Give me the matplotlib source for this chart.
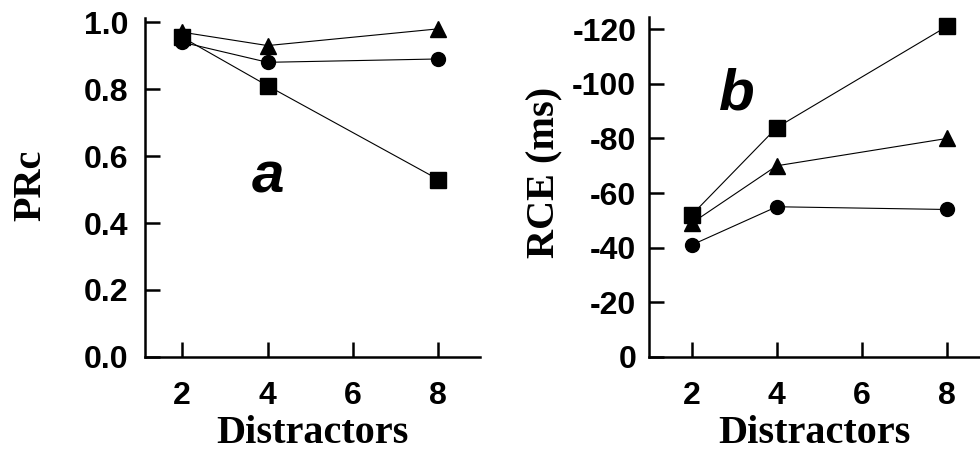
import matplotlib
matplotlib.use('Agg')
import matplotlib.pyplot as plt
from matplotlib.font_manager import FontProperties

# data
distractors = [2, 4, 8]

# panel a: PRc
prc_triangle = [0.97, 0.93, 0.98]
prc_circle = [0.94, 0.88, 0.89]
prc_square = [0.955, 0.81, 0.53]

# panel b: RCE (ms)
rce_square = [-52, -84, -121]
rce_triangle = [-49, -70, -80]
rce_circle = [-41, -55, -54]

x_ticks = [2, 4, 6, 8]
prc_ticks = [0.0, 0.2, 0.4, 0.6, 0.8, 1.0]
rce_ticks = [0, -20, -40, -60, -80, -100, -120]

tick_font = FontProperties(family='Liberation Sans', weight='bold', size=23)
label_font = {'family': 'Liberation Serif', 'weight': 'bold', 'size': 29}

fig = plt.figure(figsize=(9.8, 4.53), dpi=100)
ax1 = fig.add_axes([0.148, 0.212, 0.342, 0.748])
ax2 = fig.add_axes([0.662, 0.212, 0.338, 0.750])


def style_axes(ax, ypad):
    for side in ['top', 'right']:
        ax.spines[side].set_visible(False)
    for side in ['left', 'bottom']:
        ax.spines[side].set_linewidth(1.8)
    ax.tick_params(direction='in', length=11, width=1.8)
    ax.tick_params(axis='y', pad=ypad)
    ax.tick_params(axis='x', pad=17)
    for lab in ax.get_xticklabels() + ax.get_yticklabels():
        lab.set_fontproperties(tick_font)


line_kw = dict(color='black', linewidth=0.8)

# panel a
ax1.plot(distractors, prc_square, marker='s', markersize=11, **line_kw)
ax1.plot(distractors, prc_circle, marker='o', markersize=10, **line_kw)
ax1.plot(distractors, prc_triangle, marker='^', markersize=11, **line_kw)
ax1.set_xlim(1.13, 8.98)
ax1.set_ylim(0, 1.012)
ax1.set_xticks(x_ticks)
ax1.set_yticks(prc_ticks)
ax1.set_yticklabels(['%.1f' % v for v in prc_ticks])
style_axes(ax1, 12)
ax1.set_xlabel('Distractors', fontdict=label_font)
ax1.text(4, 0.49, 'a', fontsize=42, fontweight='bold', style='italic',
         family='Liberation Sans', ha='center', va='baseline')
fig.text(0.031, 0.59, 'PRc', rotation=90, ha='center', va='center', **label_font)

# panel b
ax2.plot(distractors, rce_triangle, marker='^', markersize=11, **line_kw)
ax2.plot(distractors, rce_square, marker='s', markersize=11, **line_kw)
ax2.plot(distractors, rce_circle, marker='o', markersize=10, **line_kw)
ax2.set_xlim(0.99, 8.78)
ax2.set_ylim(0, -124.4)
ax2.set_xticks(x_ticks)
ax2.set_yticks(rce_ticks)
ax2.set_yticklabels([str(v) for v in rce_ticks])
style_axes(ax2, 9)
ax2.set_xlabel('Distractors', fontdict=label_font)
ax2.text(3.06, -90.5, 'b', fontsize=42, fontweight='bold', style='italic',
         family='Liberation Sans', ha='center', va='baseline')
fig.text(0.556, 0.62, 'RCE (ms)', rotation=90, ha='center', va='center', **label_font)

# put both x labels at the same height as in the original
for ax in (ax1, ax2):
    ax.xaxis.set_label_coords(0.5, -0.225)
    ax.xaxis.label.set_va('center')

plt.savefig('out.png', dpi=100)
